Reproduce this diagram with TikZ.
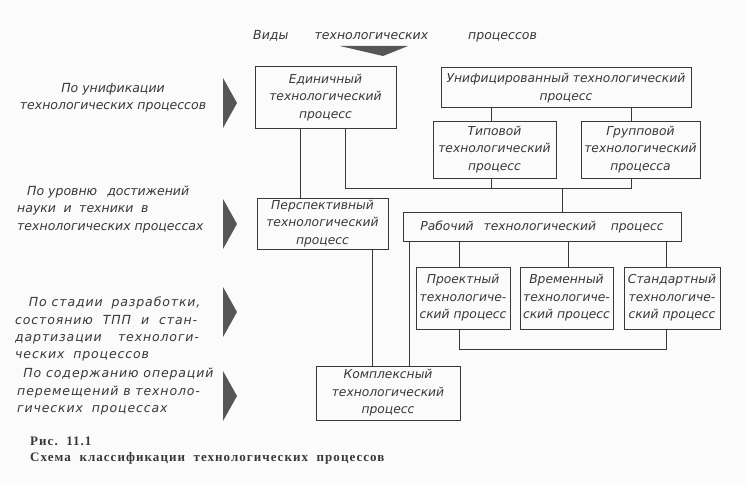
\documentclass[tikz,border=0pt]{standalone}
\usepackage{fontspec}
\usepackage{tikz}
\usetikzlibrary{calc, positioning}
\newfontfamily\schemefont{DejaVu Sans}
\newfontfamily\widefont{DejaVu Sans}[LetterSpace=7]
\newfontfamily\capfont{Liberation Serif}[LetterSpace=8]
\definecolor{ink}{gray}{0.22}
\definecolor{paper}{gray}{0.985}

\begin{document}
\begin{tikzpicture}[x=1pt, y=-1pt,
        box/.style={draw=ink, line width=1pt, inner sep=0pt, align=center, text=ink,
            font=\schemefont\itshape\fontsize{12.3}{17.5}\selectfont},
        side/.style={inner sep=0pt, align=left, text=ink,
            font=\schemefont\itshape\fontsize{12.5}{17.3}\selectfont},
        wideside/.style={side, font=\widefont\itshape\fontsize{12.5}{17.3}\selectfont},
        link/.style={draw=ink, line width=1pt},
        marker/.style={fill=ink!85}]
        \useasboundingbox (0,0) rectangle (746,484);
        \fill[paper] (0,0) rectangle (746,484);

        % title
        \node[side, anchor=west] (title) at (253,36) {Виды\hspace{2.1em}технологических\hspace{3.2em}процессов};
        \fill[marker] (340,46) -- (408,46) -- (383,56) -- cycle;

        % boxes
        \node[box, minimum width=141, minimum height=61] (edin) at (325.5,97.5) {Единичный\\технологический\\процесс};
        \node[box, minimum width=250, minimum height=40] (unif) at (566,88) {Унифицированный технологический\\процесс};
        \node[box, minimum width=123, minimum height=57] (tip) at (494.5,149.5) {Типовой\\технологический\\процесс};
        \node[box, minimum width=119, minimum height=57] (grup) at (640.5,149.5) {Групповой\\технологический\\процесса};
        \node[box, minimum width=131, minimum height=51] (persp) at (322.5,223.5) {Перспективный\\технологический\\процесс};
        \node[box, minimum width=278, minimum height=29] (rab) at (542,226.5) {Рабочий\hspace{0.8em}технологический\hspace{1.2em}процесс};
        \node[box, minimum width=94, minimum height=62] (proekt) at (463,298) {Проектный\\технологиче-\\ский процесс};
        \node[box, minimum width=93, minimum height=62] (vrem) at (566.5,298) {Временный\\технологиче-\\ский процесс};
        \node[box, minimum width=96, minimum height=62] (stand) at (672,298) {Стандартный\\технологиче-\\ский процесс};
        \node[box, minimum width=144, minimum height=54] (kompl) at (388,393) {Комплексный\\технологический\\процесс};

        % connectors
        \coordinate (bus) at (0,188);
        \coordinate (bot) at (0,349);
        \draw[link] ([xshift=-25.5]edin.south) -- ([xshift=-25.5]edin.south |- persp.north);
        \draw[link] ([xshift=19.5]edin.south) |- ([xshift=-9.5]grup.south |- bus) -- ([xshift=-9.5]grup.south);
        \draw[link] ([xshift=-3.5]tip.south) -- ([xshift=-3.5]tip.south |- bus);
        \draw[link] ([xshift=20]rab.north) -- ([xshift=20]rab.north |- bus);
        \draw[link] ([xshift=-3.5]tip.north |- unif.south) -- ([xshift=-3.5]tip.north);
        \draw[link] ([xshift=-9.5]grup.north |- unif.south) -- ([xshift=-9.5]grup.north);
        \draw[link] ([xshift=49.5]persp.south) -- ([xshift=49.5]persp.south |- kompl.north);
        \draw[link] ([xshift=-133]rab.south) -- ([xshift=-133]rab.south |- kompl.north);
        \draw[link] ([xshift=-4]proekt.north |- rab.south) -- ([xshift=-4]proekt.north);
        \draw[link] ([xshift=1.5]vrem.north |- rab.south) -- ([xshift=1.5]vrem.north);
        \draw[link] ([xshift=-6]stand.north |- rab.south) -- ([xshift=-6]stand.north);
        \draw[link] ([xshift=-4]proekt.south) |- ([xshift=-6]stand.south |- bot) -- ([xshift=-6]stand.south);

        % left labels
        \node[side, align=center] (byunif) at (113,98) {По унификации\\технологических процессов};
        \node[side, anchor=north west] (bylevel) at (17,186) {\hspace*{0.8em}По уровню\hspace{0.8em}достижений\\науки\hspace{0.6em}и\hspace{0.6em}техники\hspace{0.6em}в\\технологических процессах};
        \node[wideside, anchor=north west] (bystage) at (15,297) {\hspace*{1.1em}По стадии\hspace{0.7em}разработки,\\состоянию\hspace{0.8em}ТПП\hspace{0.8em}и\hspace{0.8em}стан-\\дартизации\hspace{1.3em}технологи-\\ческих\hspace{0.7em}процессов};
        \node[wideside, anchor=north west] (bycontent) at (17,368) {\hspace*{0.5em}По содержанию операций\\перемещений в техноло-\\гических\hspace{0.7em}процессах};
        \foreach \y in {103,224,312,396}
            \fill[marker] (223,\y-25) -- (237,\y) -- (223,\y+25) -- cycle;

        % caption
        \node[anchor=north west, inner sep=0pt, align=left, text=ink,
            font=\capfont\bfseries\fontsize{13}{15.5}\selectfont] (caption) at (30,437)
            {Рис.\ \ 11.1\\Схема\ \ классификации\ \ технологических\ \ процессов};
      \end{tikzpicture}
\end{document}
